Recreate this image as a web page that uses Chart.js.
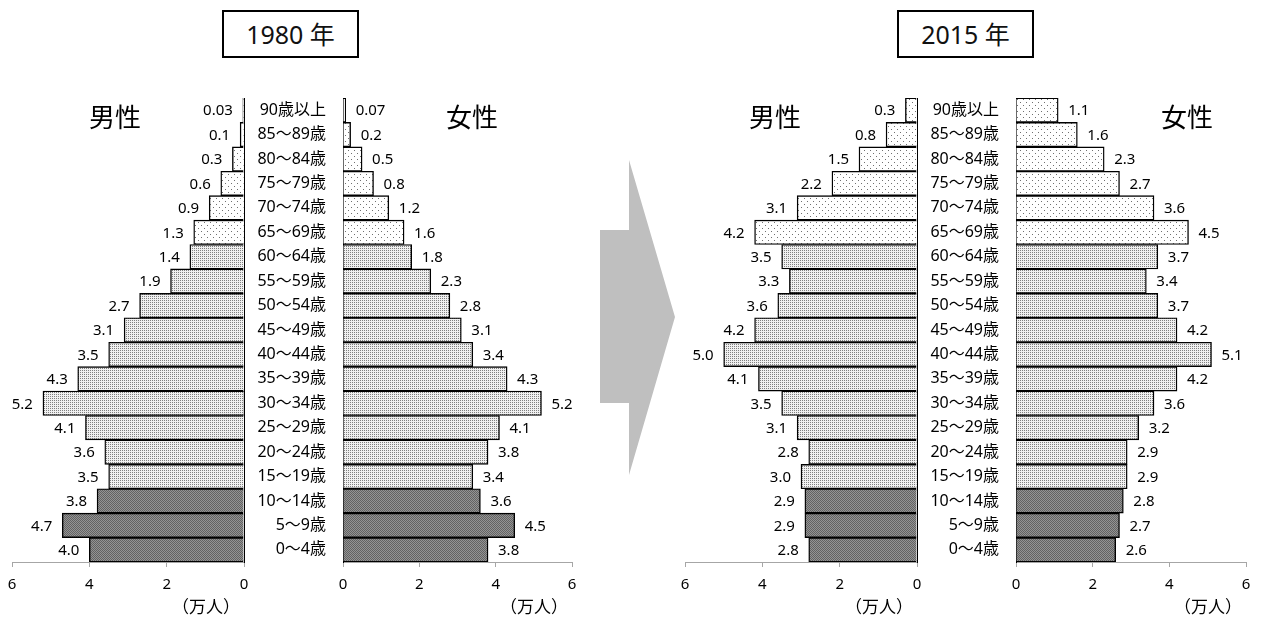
<!DOCTYPE html>
<html lang="ja">
<head>
<meta charset="utf-8">
<title>人口ピラミッド 1980年・2015年</title>
<script src="https://cdn.jsdelivr.net/npm/chart.js@4/dist/chart.umd.min.js"></script>
<style>
  html, body { margin: 0; padding: 0; background: #fff; }
  #stage { position: relative; width: 1262px; height: 619px; overflow: hidden;
           font-family: 'Noto Sans', 'Noto Sans CJK JP', sans-serif; color: #000; }
  #stage canvas { position: absolute; left: 0; top: 0; }
  .year { position: absolute; top: 10px; width: 133px; height: 44px; border: 2px solid #000;
          font-size: 25px; line-height: 44px; text-align: center; color: #111; background: #fff; }
  .sex { position: absolute; font-family: 'Noto Sans CJK JP', sans-serif; font-size: 26px; line-height: 26px;
         color: #000; white-space: nowrap; }
  #arrow { position: absolute; left: 600px; top: 160px; width: 75px; height: 315px; background: #bfbfbf;
           clip-path: polygon(0 70px, 29px 70px, 29px 0, 75px 157px, 29px 315px, 29px 243px, 0 243px); }
</style>
</head>
<body>
<div id="stage">
  <div class="year" style="left:222px;">1980 年</div>
  <div class="year" style="left:897px;">2015 年</div>
  <div id="arrow"></div>
  <canvas id="m1980" width="1262" height="619"></canvas>
  <canvas id="f1980" width="1262" height="619"></canvas>
  <canvas id="m2015" width="1262" height="619"></canvas>
  <canvas id="f2015" width="1262" height="619"></canvas>
  <div class="sex" style="left:89px;top:103px;">男性</div>
  <div class="sex" style="left:446px;top:103px;">女性</div>
  <div class="sex" style="left:749px;top:103px;">男性</div>
  <div class="sex" style="left:1161px;top:103px;">女性</div>
</div>
<script>
// Age groups, oldest at the top
const ageLabels = ['90歳以上', '85～89歳', '80～84歳', '75～79歳', '70～74歳', '65～69歳',
                   '60～64歳', '55～59歳', '50～54歳', '45～49歳', '40～44歳', '35～39歳',
                   '30～34歳', '25～29歳', '20～24歳', '15～19歳', '10～14歳', '5～9歳', '0～4歳'];

// Population in units of 10,000 people (万人)
const male1980   = [0.03, 0.1, 0.3, 0.6, 0.9, 1.3, 1.4, 1.9, 2.7, 3.1, 3.5, 4.3, 5.2, 4.1, 3.6, 3.5, 3.8, 4.7, 4.0];
const female1980 = [0.07, 0.2, 0.5, 0.8, 1.2, 1.6, 1.8, 2.3, 2.8, 3.1, 3.4, 4.3, 5.2, 4.1, 3.8, 3.4, 3.6, 4.5, 3.8];
const male2015   = [0.3, 0.8, 1.5, 2.2, 3.1, 4.2, 3.5, 3.3, 3.6, 4.2, 5.0, 4.1, 3.5, 3.1, 2.8, 3.0, 2.9, 2.9, 2.8];
const female2015 = [1.1, 1.6, 2.3, 2.7, 3.6, 4.5, 3.7, 3.4, 3.7, 4.2, 5.1, 4.2, 3.6, 3.2, 2.9, 2.9, 2.8, 2.7, 2.6];

// Value axis ticks and unit
const xTicks = [0, 2, 4, 6];
const xUnit = '（万人）';

const W = 1262;
const FONT = "'Noto Sans', 'Noto Sans CJK JP', sans-serif";
const PLOT_TOP = 98;
const AXIS_HEIGHT = 57;

// Dotted fills: 65+ sparse dots, 15-64 fine grey dots, 0-14 dark grey
function makePattern(size, bg, dots, dotColor) {
  const c = document.createElement('canvas');
  c.width = size; c.height = size;
  const g = c.getContext('2d');
  g.fillStyle = bg; g.fillRect(0, 0, size, size);
  g.fillStyle = dotColor;
  dots.forEach(([x, y]) => g.fillRect(x, y, 1, 1));
  return g.createPattern(c, 'repeat');
}
const fills = {
  old:   makePattern(6, '#ffffff', [[0, 0], [3, 3]], '#707070'),
  work:  makePattern(2, '#f0f0f0', [[0, 0]], '#808080'),
  young: makePattern(2, '#949494', [[0, 0], [1, 1]], '#626262')
};
function bandOf(i) { return i < 6 ? 'old' : (i < 16 ? 'work' : 'young'); }

function fmt(v) { return v < 0.1 ? v.toFixed(2) : v.toFixed(1); }

// Writes each bar's value beyond its end, and the unit under the value axis
const valueLabels = {
  id: 'valueLabels',
  afterDraw(chart, args, opts) {
    const { ctx } = chart;
    const meta = chart.getDatasetMeta(0);
    const data = chart.data.datasets[0].data;
    ctx.save();
    ctx.font = '15px ' + FONT;
    ctx.fillStyle = '#000';
    ctx.textBaseline = 'middle';
    meta.data.forEach((bar, i) => {
      const txt = fmt(data[i]);
      if (opts.side === 'male') {
        ctx.textAlign = 'right';
        ctx.fillText(txt, bar.x - 10, bar.y + 1);
      } else {
        ctx.textAlign = 'left';
        ctx.fillText(txt, bar.x + 10, bar.y + 1);
      }
    });
    const xs = chart.scales.x;
    ctx.font = "17px 'Noto Sans CJK JP', sans-serif";
    ctx.textAlign = 'right';
    ctx.fillText(xUnit, Math.max(xs.getPixelForValue(xs.min), xs.getPixelForValue(xs.max)) - 4, 607);
    ctx.restore();
  }
};

function pyramid(id, values, side, left, right) {
  const male = side === 'male';
  const tickFont = { family: FONT, size: 15 };
  const yAxisWidth = male ? 0 : 100;
  return new Chart(document.getElementById(id), {
    type: 'bar',
    data: {
      labels: ageLabels,
      datasets: [{
        data: values,
        backgroundColor: values.map((v, i) => fills[bandOf(i)]),
        borderColor: '#000',
        borderWidth: 1.4,
        borderSkipped: 'start',
        categoryPercentage: 1,
        barPercentage: 1
      }]
    },
    plugins: [valueLabels],
    options: {
      indexAxis: 'y',
      responsive: false,
      animation: false,
      devicePixelRatio: 1,
      layout: {
        padding: male
          ? { left: left, right: W - right, top: PLOT_TOP, bottom: 0 }
          : { left: left - yAxisWidth, right: W - right, top: PLOT_TOP, bottom: 0 }
      },
      plugins: {
        legend: { display: false },
        tooltip: { enabled: false },
        valueLabels: { side: side }
      },
      scales: {
        x: {
          min: 0, max: 6,
          reverse: male,
          afterBuildTicks: s => { s.ticks = xTicks.map(v => ({ value: v })); },
          afterFit: s => { s.height = AXIS_HEIGHT; },
          grid: { drawOnChartArea: false, drawTicks: true, tickLength: 5, color: '#a6a6a6' },
          border: { color: '#a6a6a6', width: 1 },
          ticks: { padding: 9, font: tickFont, color: '#000', maxRotation: 0 }
        },
        y: {
          position: male ? 'right' : 'left',
          afterFit: s => { s.width = yAxisWidth; },
          grid: { display: false, drawTicks: false },
          border: { color: '#000', width: 1 },
          ticks: { display: !male, padding: 17, font: { family: FONT, size: 16 }, color: '#000' }
        }
      }
    }
  });
}

pyramid('m1980', male1980, 'male', 12, 244);
pyramid('f1980', female1980, 'female', 343, 572);
pyramid('m2015', male2015, 'male', 685, 917);
pyramid('f2015', female2015, 'female', 1016, 1246);
</script>
</body>
</html>
